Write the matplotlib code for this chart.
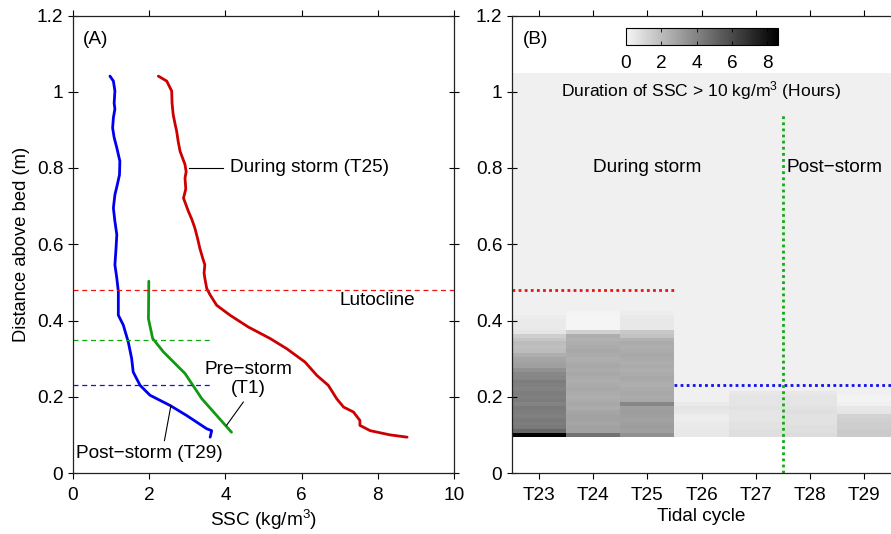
import numpy as np
import matplotlib
matplotlib.use("Agg")
import matplotlib.pyplot as plt
from matplotlib.colors import LinearSegmentedColormap

plt.rcParams['font.family'] = ['Liberation Sans', 'DejaVu Sans']
plt.rcParams['mathtext.fontset'] = 'custom'
plt.rcParams['mathtext.rm'] = 'Liberation Sans'
plt.rcParams['mathtext.it'] = 'Liberation Sans:italic'
FS = 13.7
plt.rcParams['font.size'] = FS

# ---------------- Panel A data: SSC profiles ----------------
t25_ssc = [2.24, 2.46, 2.59, 2.60, 2.63, 2.68, 2.72, 2.76, 2.81, 2.94, 2.97, 2.94, 2.96, 2.90,
           3.03, 3.12, 3.20, 3.27, 3.33, 3.40, 3.46, 3.44, 3.46, 3.51, 3.60, 3.77, 4.12, 4.60,
           5.17, 5.61, 6.09, 6.40, 6.70, 6.92, 7.10, 7.36, 7.53, 7.53, 7.80, 8.32, 8.77]
t25_z = [1.041, 1.028, 1.002, 0.970, 0.940, 0.915, 0.897, 0.870, 0.844, 0.809, 0.790, 0.774,
         0.745, 0.721, 0.686, 0.665, 0.642, 0.615, 0.589, 0.565, 0.546, 0.525, 0.511, 0.484,
         0.467, 0.440, 0.414, 0.383, 0.353, 0.326, 0.291, 0.256, 0.230, 0.195, 0.173, 0.160,
         0.138, 0.125, 0.111, 0.100, 0.094]

t29_ssc = [0.97, 1.06, 1.10, 1.08, 1.10, 1.06, 1.04, 1.08, 1.15, 1.23, 1.22, 1.16, 1.10, 1.06,
           1.10, 1.15, 1.13, 1.10, 1.13, 1.15, 1.19, 1.19, 1.32, 1.45, 1.54, 1.58, 1.76, 2.02,
           2.55, 2.98, 3.51, 3.64, 3.60]
t29_z = [1.041, 1.028, 1.002, 0.970, 0.955, 0.932, 0.905, 0.880, 0.853, 0.818, 0.782, 0.755,
         0.730, 0.695, 0.660, 0.625, 0.590, 0.546, 0.525, 0.511, 0.476, 0.414, 0.388, 0.344,
         0.300, 0.265, 0.230, 0.204, 0.177, 0.151, 0.116, 0.111, 0.094]

t1_ssc = [1.99, 1.98, 2.09, 2.37, 2.94, 3.38, 4.16]
t1_z = [0.503, 0.405, 0.353, 0.318, 0.261, 0.195, 0.107]

lutocline_t25 = 0.48
lutocline_t1 = 0.35
lutocline_t29 = 0.23

# ---------------- Panel B data: duration heat map ----------------
cycles = ['T23', 'T24', 'T25', 'T26', 'T27', 'T28', 'T29']
# bin edges (m) : 0.01 m bins from 0.095 to 0.455, then one bin up to 1.05
z_edges = [0.095, 0.105, 0.115, 0.125, 0.135, 0.145, 0.155, 0.165, 0.175, 0.185, 0.195,
           0.205, 0.215, 0.225, 0.235, 0.245, 0.255, 0.265, 0.275, 0.285, 0.295, 0.305,
           0.315, 0.325, 0.335, 0.345, 0.355, 0.365, 0.375, 0.385, 0.395, 0.405, 0.415,
           0.425, 0.435, 0.445, 0.455, 1.05]
dur_T23 = [8.5, 5.0, 4.3, 4.2, 4.3, 4.1, 4.2, 4.3, 4.0, 4.2, 4.1, 4.2, 4.0, 4.1, 4.2, 3.9,
           3.8, 3.5, 3.0, 2.9, 2.8, 2.5, 2.0, 1.9, 2.0, 1.7, 1.4, 0.6, 0.4, 0.4, 0.4, 0.3,
           0.2, 0.2, 0.2, 0.2, 0.2]
dur_T24 = [4.6, 2.9, 2.9, 2.8, 2.9, 2.9, 2.8, 2.6, 2.7, 2.6, 2.5, 2.6, 2.7, 2.6, 2.5, 2.6,
           2.7, 2.6, 2.7, 2.6, 2.5, 2.6, 2.7, 2.6, 2.5, 2.4, 2.5, 1.3, 0.0, 0.0, 0.0, 0.0,
           0.1, 0.2, 0.2, 0.2, 0.2]
dur_T25 = [3.5, 3.0, 3.1, 3.0, 2.9, 3.0, 3.1, 3.0, 3.9, 2.7, 2.6, 2.7, 2.6, 2.5, 2.6, 2.7,
           2.6, 2.5, 2.6, 2.5, 2.6, 2.7, 2.6, 2.5, 2.6, 2.4, 1.8, 1.6, 0.5, 0.5, 0.5, 0.4,
           0.3, 0.2, 0.2, 0.2, 0.2]
dur_T26 = [0.5, 0.5, 0.4, 0.4, 0.3, 0.3, 0.5, 0.6, 0.4, 0.2, 0.2, 0.2, 0.2, 0.2, 0.2, 0.2,
           0.2, 0.2, 0.2, 0.2, 0.2, 0.2, 0.2, 0.2, 0.2, 0.2, 0.2, 0.2, 0.2, 0.2, 0.2, 0.2,
           0.2, 0.2, 0.2, 0.2, 0.2]
dur_T27 = [0.8, 0.8, 0.7, 0.7, 0.6, 0.6, 0.6, 0.7, 0.6, 0.6, 0.6, 0.5, 0.2, 0.2, 0.2, 0.2,
           0.2, 0.2, 0.2, 0.2, 0.2, 0.2, 0.2, 0.2, 0.2, 0.2, 0.2, 0.2, 0.2, 0.2, 0.2, 0.2,
           0.2, 0.2, 0.2, 0.2, 0.2]
dur_T28 = [0.9, 0.8, 0.8, 0.7, 0.7, 0.7, 0.8, 0.7, 0.6, 0.6, 0.6, 0.5, 0.2, 0.2, 0.2, 0.2,
           0.2, 0.2, 0.2, 0.2, 0.2, 0.2, 0.2, 0.2, 0.2, 0.2, 0.2, 0.2, 0.2, 0.2, 0.2, 0.2,
           0.2, 0.2, 0.2, 0.2, 0.2]
dur_T29 = [1.5, 1.5, 1.4, 1.4, 1.3, 1.2, 0.6, 0.5, 0.2, 0.1, 0.1, 0.2, 0.2, 0.2, 0.2, 0.2,
           0.2, 0.2, 0.2, 0.2, 0.2, 0.2, 0.2, 0.2, 0.2, 0.2, 0.2, 0.2, 0.2, 0.2, 0.2, 0.2,
           0.2, 0.2, 0.2, 0.2, 0.2]
dur_max = 8.6
storm_split = 4.5   # between T27 and T28

# ---------------- Figure ----------------
fig = plt.figure(figsize=(8.91, 5.34), dpi=100)
axA = fig.add_axes([73/891, 1 - 473/534, (454 - 73)/891, (473 - 15.5)/534])
axB = fig.add_axes([512/891, 1 - 473/534, (891 - 512)/891, (473 - 15.5)/534])

red = '#cc0000'
blue = '#0000ee'
green = '#119911'

# Panel A
axA.plot(t25_ssc, t25_z, color=red, lw=2.0, solid_capstyle='round')
axA.plot(t29_ssc, t29_z, color=blue, lw=2.0, solid_capstyle='round')
axA.plot(t1_ssc, t1_z, color=green, lw=2.0, solid_capstyle='round')
axA.plot([0, 10], [lutocline_t25]*2, color='#ee1111', lw=0.9, ls=(0, (4, 3)))
axA.plot([0, 3.6], [lutocline_t1]*2, color='#11aa11', lw=0.9, ls=(0, (4, 3)))
axA.plot([0, 3.6], [lutocline_t29]*2, color='#1111ee', lw=0.9, ls=(0, (4, 3)))

axA.plot([3.04, 3.94], [0.8, 0.8], color='k', lw=0.8)
axA.text(4.12, 0.8, 'During storm (T25)', va='center', ha='left', fontsize=FS)
axA.text(7.98, 0.452, 'Lutocline', va='center', ha='center', fontsize=FS)
axA.plot([4.47, 4.03], [0.186, 0.125], color='k', lw=0.8)
axA.text(4.6, 0.247, 'Pre\u2212storm\n(T1)', va='center', ha='center', fontsize=FS,
         linespacing=1.15)
axA.plot([2.40, 2.57], [0.085, 0.177], color='k', lw=0.8)
axA.text(0.08, 0.05, 'Post\u2212storm (T29)', va='center', ha='left', fontsize=FS)
axA.text(0.25, 1.137, '(A)', va='center', ha='left', fontsize=FS)

axA.set_xlim(0, 10)
axA.set_ylim(0, 1.2)
axA.set_xticks([0, 2, 4, 6, 8, 10])
axA.set_yticks([0, 0.2, 0.4, 0.6, 0.8, 1.0, 1.2])
axA.set_yticklabels(['0', '0.2', '0.4', '0.6', '0.8', '1', '1.2'])
axA.set_xlabel('SSC (kg/m$^3$)', fontsize=FS, labelpad=3)
axA.set_ylabel('Distance above bed (m)', fontsize=13.2, labelpad=5)
axA.tick_params(axis='x', direction='out', length=4, width=0.8, top=True, labelsize=FS, pad=6)
axA.tick_params(axis='y', direction='inout', length=7, width=0.8, right=True, labelsize=FS)

# Panel B
cmap = LinearSegmentedColormap.from_list('grey_r', ['#f5f5f5', '#000000'])
dur = np.array([dur_T23, dur_T24, dur_T25, dur_T26, dur_T27, dur_T28, dur_T29]).T
x_edges = np.arange(len(cycles) + 1) - 0.5
mesh = axB.pcolormesh(x_edges, z_edges, dur, cmap=cmap, vmin=0, vmax=dur_max,
                      shading='flat', edgecolors='none', rasterized=True)

axB.plot([-0.5, 2.5], [lutocline_t25]*2, color='#ee1111', lw=2, ls=(0, (1, 1.2)))
axB.plot([2.5, 6.5], [lutocline_t29]*2, color='#1111ee', lw=2, ls=(0, (1, 1.2)))
axB.plot([storm_split, storm_split], [0, 0.94], color='#11aa11', lw=2, ls=(0, (1, 1.2)))

axB.text(2.0, 0.8, 'During storm', va='center', ha='center', fontsize=FS)
axB.text(4.57, 0.8, 'Post\u2212storm', va='center', ha='left', fontsize=FS)
axB.text(3.0, 1.003, 'Duration of SSC > 10 kg/m$^3$ (Hours)', va='center', ha='center',
         fontsize=12.6)
axB.text(-0.3, 1.137, '(B)', va='center', ha='left', fontsize=FS)

axB.set_xlim(-0.5, 6.5)
axB.set_ylim(0, 1.2)
axB.set_xticks(range(len(cycles)))
axB.set_xticklabels(cycles)
axB.set_yticks([0, 0.2, 0.4, 0.6, 0.8, 1.0, 1.2])
axB.set_yticklabels(['0', '0.2', '0.4', '0.6', '0.8', '1', '1.2'])
axB.set_xlabel('Tidal cycle', fontsize=FS, labelpad=3)
axB.spines['right'].set_visible(False)
axB.tick_params(axis='x', direction='out', length=4, width=0.8, top=True, labelsize=FS, pad=6)
axB.tick_params(axis='y', direction='inout', length=7, width=0.8, labelsize=FS)

for ax in (axA, axB):
    for s in ax.spines.values():
        s.set_linewidth(0.9)
        s.set_color('#222222')

# Colorbar
cax = fig.add_axes([626/891, 1 - 45/534, (778 - 626)/891, 17/534])
cb = fig.colorbar(mesh, cax=cax, orientation='horizontal', ticks=[0, 2, 4, 6, 8])
cb.outline.set_linewidth(0.8)
cax.tick_params(direction='in', length=3, width=0.6, top=True, bottom=True, labelsize=FS, pad=7)
cax.set_xticklabels(['0', '2', '4', '6', '8'])

fig.savefig('out.png', dpi=100)
